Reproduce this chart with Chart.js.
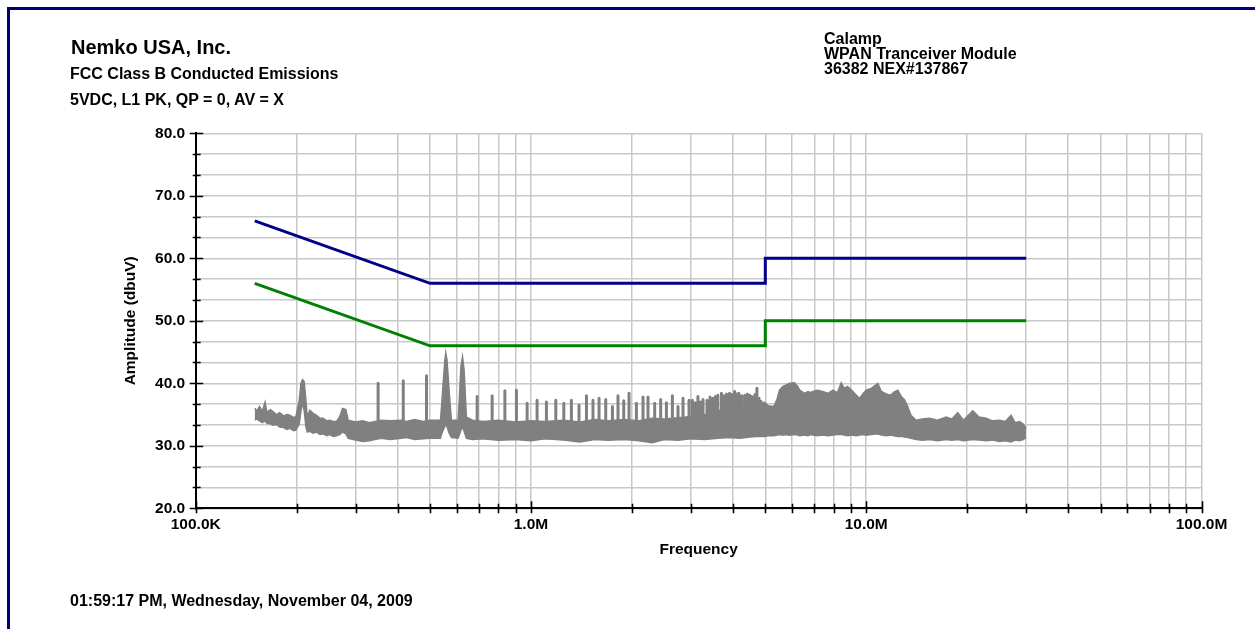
<!DOCTYPE html>
<html>
<head>
<meta charset="utf-8">
<script src="https://cdn.jsdelivr.net/npm/chart.js@4.4.0/dist/chart.umd.min.js"></script>
<style>
  html, body { margin: 0; padding: 0; background: #fff; width: 1255px; height: 629px; overflow: hidden; }
  canvas { position: absolute; left: 0; top: 0; }
  #frame { position: absolute; left: 7px; top: 7px; width: 1400px; height: 800px;
           border-top: 3px solid #00007f; border-left: 3px solid #00007f; pointer-events: none; }
  .t { position: absolute; font-family: "Liberation Sans", Arial, sans-serif; font-weight: bold;
       color: #000; white-space: nowrap; }
</style>
</head>
<body>
<canvas id="c" width="1255" height="629"></canvas>
<div id="frame"></div>
<div class="t" style="left:71px;top:37px;font-size:20px;line-height:20px">Nemko USA, Inc.</div>
<div class="t" style="left:70px;top:66px;font-size:16px;line-height:16px">FCC Class B Conducted Emissions</div>
<div class="t" style="left:70px;top:92px;font-size:16px;line-height:16px">5VDC, L1 PK, QP = 0, AV = X</div>
<div class="t" style="left:824px;top:30.5px;font-size:16px;line-height:15px">Calamp<br>WPAN Tranceiver Module<br>36382 NEX#137867</div>
<div class="t" style="left:70px;top:593px;font-size:16px;line-height:16px">01:59:17 PM, Wednesday, November 04, 2009</div>

<script>
// Frequency axis (MHz): grid positions and the decade labels
const freqTicks = [0.1, 0.2, 0.3, 0.4, 0.5, 0.6, 0.7, 0.8, 0.9,
                   1, 2, 3, 4, 5, 6, 7, 8, 9,
                   10, 20, 30, 40, 50, 60, 70, 80, 90, 100];
const freqLabels = { 0.1: '100.0K', 1: '1.0M', 10: '10.0M', 100: '100.0M' };

// Amplitude axis (dBuV): labelled values; three grid steps per 10 dB
const ampMajor = [20, 30, 40, 50, 60, 70, 80];
const ampStepsPerMajor = 3;

// FCC Class B conducted limits (MHz, dBuV)
const qpFreq  = [0.15, 0.5, 5, 5, 30];
const qpLimit = [66,   56,  56, 60, 60];
const avFreq  = [0.15, 0.5, 5, 5, 30];
const avLimit = [56,   46,  46, 50, 50];

// Peak scan, noise band: frequency (MHz), upper and lower edge (dBuV)
const bandFreq = [
  0.150, 0.152, 0.155, 0.158, 0.161, 0.163, 0.167, 0.170, 0.174, 0.178,
  0.183, 0.187, 0.191, 0.196, 0.199, 0.2036, 0.206, 0.2084, 0.2107, 0.2132,
  0.2151, 0.219, 0.224, 0.229, 0.235, 0.240, 0.246, 0.251, 0.257, 0.263,
  0.269, 0.274, 0.2805, 0.285, 0.300, 0.315, 0.330, 0.342, 0.358, 0.380,
  0.411, 0.425, 0.450, 0.477, 0.499, 0.537, 0.541, 0.547, 0.553, 0.557,
  0.562, 0.570, 0.579, 0.606, 0.611, 0.618, 0.625, 0.632, 0.642, 0.670,
  0.72, 0.80, 0.90, 1.00, 1.10, 1.25, 1.40, 1.55, 1.70, 1.90,
  2.10, 2.30, 2.50, 2.75, 3.00, 3.30, 3.60, 3.90, 4.20, 4.50,
  4.80, 4.97, 5.10, 5.30, 5.42, 5.51, 5.64, 5.75, 5.91, 6.11,
  6.25, 6.33, 6.55, 6.70, 6.82, 6.93, 7.15, 7.42, 7.70, 7.95,
  8.20, 8.42, 8.60, 8.80, 9.05, 9.35, 9.55, 9.80, 10.0, 10.35,
  10.83, 11.10, 11.47, 11.80, 12.10, 12.42, 12.72, 13.0, 13.3, 13.6,
  14.09, 14.7, 15.44, 16.3, 17.31, 18.0, 18.75, 19.5, 20.78, 21.7,
  22.79, 23.8, 24.97, 26.0, 27.04, 27.8, 28.64, 29.4, 30.0];
const bandHigh = [
  36.0, 35.6, 36.3, 35.5, 37.0, 35.4, 35.8, 35.5, 35.0, 35.3,
  34.8, 35.0, 34.9, 34.5, 34.7, 37.3, 40.0, 40.6, 40.3, 37.3,
  34.7, 35.7, 35.2, 34.9, 34.4, 34.4, 34.0, 34.1, 33.9, 33.9,
  34.7, 36.0, 35.8, 34.1, 33.8, 34.0, 33.7, 33.9, 34.1, 34.0,
  34.1, 33.9, 34.2, 33.9, 34.1, 34.1, 36.3, 40.0, 43.5, 44.9,
  43.7, 38.9, 34.1, 34.1, 37.3, 42.7, 44.3, 42.1, 34.6, 34.1,
  33.9, 34.1, 33.8, 34.0, 33.9, 34.1, 33.8, 34.2, 34.0, 34.2,
  34.0, 34.4, 34.3, 34.5, 34.7, 35.0, 35.6, 35.9, 36.1, 36.3,
  36.5, 37.0, 36.4, 36.3, 37.5, 38.9, 39.5, 39.7, 40.0, 40.1,
  39.5, 38.9, 38.4, 38.7, 38.5, 38.7, 38.9, 38.7, 38.4, 38.9,
  38.5, 40.1, 39.2, 39.5, 38.9, 38.1, 37.6, 38.4, 38.9, 39.2,
  40.0, 38.7, 38.3, 38.1, 38.6, 38.9, 37.9, 37.4, 36.3, 34.9,
  34.1, 34.3, 34.4, 34.1, 34.6, 34.3, 35.3, 34.1, 35.6, 34.6,
  34.4, 34.0, 34.1, 33.9, 34.9, 33.7, 33.9, 33.5, 32.8];
const bandLow = [
  34.1, 34.3, 34.0, 33.7, 34.0, 33.6, 33.5, 33.3, 33.4, 33.0,
  32.9, 32.6, 32.8, 32.4, 32.5, 33.5, 35.5, 37.0, 35.5, 33.0,
  32.2, 32.3, 32.0, 32.2, 31.8, 31.9, 31.6, 31.8, 31.5, 31.6,
  31.8, 32.2, 31.9, 31.2, 30.9, 30.7, 30.8, 31.0, 31.2, 31.0,
  31.2, 31.3, 31.0, 31.1, 31.2, 31.2, 31.8, 32.5, 33.0, 33.5,
  33.0, 32.0, 31.3, 31.2, 31.7, 32.5, 33.0, 32.3, 31.2, 31.0,
  31.1, 30.9, 31.0, 30.8, 31.1, 30.9, 30.6, 31.0, 30.9, 31.0,
  30.8, 30.5, 31.0, 30.9, 31.1, 31.0, 31.2, 31.3, 31.2, 31.4,
  31.5, 31.5, 31.6, 31.6, 31.7, 31.8, 31.7, 31.8, 31.7, 31.8,
  31.7, 31.6, 31.7, 31.6, 31.8, 31.7, 31.6, 31.7, 31.6, 31.7,
  31.8, 31.8, 31.7, 31.6, 31.7, 31.6, 31.7, 31.8, 31.7, 31.8,
  31.9, 31.7, 31.6, 31.7, 31.6, 31.5, 31.5, 31.4, 31.3, 31.2,
  31.0, 30.9, 31.0, 30.8, 31.0, 30.9, 31.0, 30.8, 31.0, 30.9,
  30.8, 30.9, 30.7, 30.8, 30.6, 30.9, 30.8, 31.0, 31.3];

// Peak scan, narrow harmonic spikes: frequency (MHz) and peak (dBuV)
const combFloor = 33;
const combFreq = [
  0.350, 0.416, 0.488, 0.691, 0.766, 0.836, 0.905, 0.974, 1.043, 1.112,
  1.186, 1.253, 1.320, 1.391, 1.464, 1.531, 1.596, 1.671, 1.750, 1.818,
  1.891, 1.961, 2.063, 2.159, 2.234, 2.339, 2.437, 2.535, 2.641, 2.745,
  2.841, 2.961, 3.030, 3.090, 3.148, 3.205, 3.260, 3.350, 3.420, 3.490,
  3.550, 3.610, 3.700, 3.760, 3.830, 3.910, 3.980, 4.050, 4.110, 4.170,
  4.250, 4.340, 4.420, 4.490, 4.550, 4.610, 4.660, 4.720, 4.790, 4.860];
const combPeak = [
  40.0, 40.4, 41.2, 37.9, 38.0, 38.8, 38.9, 36.8, 37.3, 37.0,
  37.3, 36.8, 37.3, 36.5, 38.0, 37.3, 37.6, 37.4, 36.3, 38.0,
  37.2, 38.4, 36.8, 37.8, 37.8, 36.8, 37.4, 36.9, 38.0, 36.3,
  37.6, 37.3, 37.3, 36.9, 37.9, 37.0, 37.4, 37.3, 37.8, 37.6,
  37.9, 38.1, 38.4, 38.0, 38.3, 38.4, 38.2, 38.7, 38.3, 38.4,
  38.0, 38.1, 38.3, 38.1, 37.9, 37.8, 38.2, 39.2, 37.6, 37.1];

const FONT = '"Liberation Sans", Arial, sans-serif';
const TRACE = '#808080';

const pts = (xs, ys) => xs.map((x, i) => ({ x: x, y: ys[i] }));
const combPts = combFreq.flatMap((f, i) => [
  { x: f, y: combFloor }, { x: f, y: combPeak[i] }, { x: f, y: null }
]);

const ampTicks = [];
for (let i = 0; i < ampMajor.length - 1; i++) {
  for (let k = 0; k < ampStepsPerMajor; k++) {
    ampTicks.push(ampMajor[i] + k * (ampMajor[i + 1] - ampMajor[i]) / ampStepsPerMajor);
  }
}
ampTicks.push(ampMajor[ampMajor.length - 1]);

const isMajorAmp = v => ampMajor.some(m => Math.abs(m - v) < 1e-6);
const freqLabel = v => {
  for (const k in freqLabels) if (Math.abs(Number(k) - v) < 1e-9) return freqLabels[k];
  return null;
};

// Axis tick marks crossing the axis lines
const tickMarks = {
  id: 'tickMarks',
  afterDraw(chart) {
    const { ctx, chartArea, scales } = chart;
    const xs = scales.x, ys = scales.y;
    ctx.save();
    ctx.strokeStyle = '#000';
    ctx.lineWidth = 1.6;
    ctx.beginPath();
    xs.ticks.forEach(t => {
      const px = Math.round(xs.getPixelForValue(t.value)) + 0.5;
      const up = freqLabel(t.value) ? 7 : 4.5;
      ctx.moveTo(px, chartArea.bottom - up);
      ctx.lineTo(px, chartArea.bottom + 5);
    });
    ys.ticks.forEach(t => {
      const py = Math.round(ys.getPixelForValue(t.value)) + 0.5;
      const major = isMajorAmp(t.value);
      ctx.moveTo(chartArea.left - (major ? 6 : 3), py);
      ctx.lineTo(chartArea.left + (major ? 7.5 : 5), py);
    });
    ctx.stroke();
    ctx.restore();
  }
};

new Chart(document.getElementById('c'), {
  type: 'line',
  data: {
    datasets: [
      { label: 'PK', data: pts(bandFreq, bandHigh), borderColor: TRACE, backgroundColor: TRACE,
        borderWidth: 1.4, pointRadius: 0, fill: '+1', tension: 0 },
      { label: 'PK floor', data: pts(bandFreq, bandLow), borderColor: TRACE,
        borderWidth: 1.4, pointRadius: 0, fill: false, tension: 0 },
      { label: 'PK harmonics', data: combPts, borderColor: TRACE, borderWidth: 3,
        borderCapStyle: 'round', pointRadius: 0, fill: false, spanGaps: false },
      { label: 'QP limit', data: pts(qpFreq, qpLimit), borderColor: '#000088',
        borderWidth: 3, pointRadius: 0, fill: false, tension: 0 },
      { label: 'AV limit', data: pts(avFreq, avLimit), borderColor: '#008000',
        borderWidth: 3, pointRadius: 0, fill: false, tension: 0 }
    ]
  },
  options: {
    responsive: false,
    animation: false,
    devicePixelRatio: 1,
    events: [],
    layout: { padding: { left: 0, top: 133.3, right: 53.5, bottom: 0 } },
    plugins: { legend: { display: false }, tooltip: { enabled: false }, title: { display: false } },
    scales: {
      x: {
        type: 'logarithmic',
        min: 0.1, max: 100,
        afterBuildTicks: s => { s.ticks = freqTicks.map(v => ({ value: v })); },
        afterFit: s => { s.height = 629 - 508.3; },
        grid: { color: '#c8c8c8', lineWidth: 1.5, drawTicks: false },
        border: { color: '#000', width: 2 },
        ticks: {
          autoSkip: false, maxRotation: 0, padding: 7, color: '#000',
          font: { family: FONT, size: 15.5, weight: 'bold' },
          callback: v => freqLabel(v) || ''
        },
        title: {
          display: true, text: 'Frequency', color: '#000',
          font: { family: FONT, size: 15.5, weight: 'bold' },
          padding: { top: 0, bottom: 69.7 }
        }
      },
      y: {
        type: 'linear',
        min: 20, max: 80,
        afterBuildTicks: s => { s.ticks = ampTicks.map(v => ({ value: v })); },
        afterFit: s => { s.width = 195.7; },
        grid: { color: '#c8c8c8', lineWidth: 1.5, drawTicks: false },
        border: { color: '#000', width: 2 },
        ticks: {
          autoSkip: false, padding: 10.5, color: '#000',
          font: { family: FONT, size: 15.5, weight: 'bold' },
          callback: v => isMajorAmp(v) ? Number(v).toFixed(1) : ''
        },
        title: {
          display: true, text: 'Amplitude (dbuV)', color: '#000',
          font: { family: FONT, size: 15.5, weight: 'bold' },
          padding: { top: 121.7, bottom: 0 }
        }
      }
    }
  },
  plugins: [tickMarks]
});
</script>
</body>
</html>
